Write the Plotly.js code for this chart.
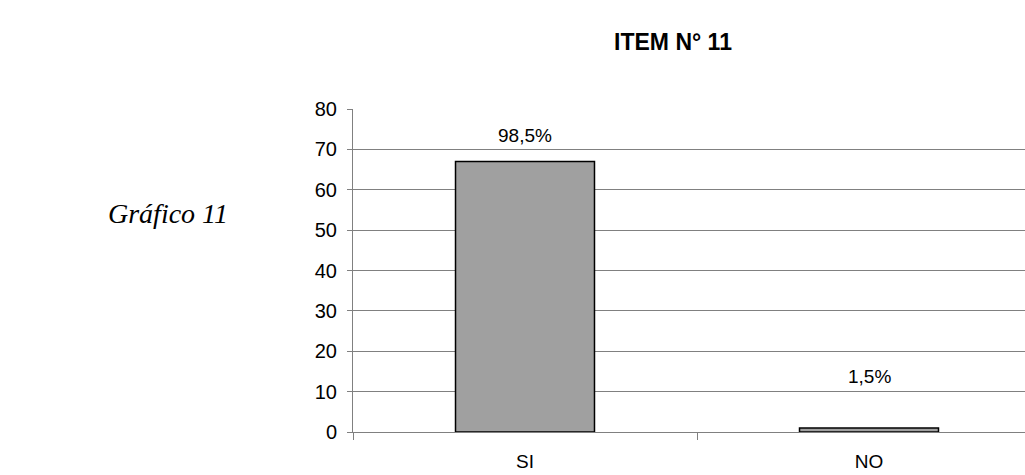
<!DOCTYPE html>
<html>
<head>
<meta charset="utf-8">
<script src="https://cdn.plot.ly/plotly-3.0.1.min.js"></script>
<style>
html,body{margin:0;padding:0;background:#fff;}
#chart{width:1025px;height:475px;}
</style>
</head>
<body>
<div id="chart"></div>
<script>
// Data
const categories = ["SI", "NO"];
const counts = [67, 1];
const percentLabels = ["98,5%", "1,5%"];
const yTickValues = [0, 10, 20, 30, 40, 50, 60, 70, 80];
const chartTitle = "ITEM N° 11";
const sideLabel = "Gráfico 11";

// Label offsets (pixels above bar top)
const labelOffsets = [26, 51];

const font = "Liberation Sans, Arial, sans-serif";

const trace = {
  type: "bar",
  x: categories,
  y: counts,
  marker: { color: "#a0a0a0", line: { color: "#000000", width: 1.5 } },
  width: 0.404,
  hoverinfo: "skip"
};

const annotations = categories.map((c, i) => ({
  x: c, y: counts[i], xref: "x", yref: "y",
  text: percentLabels[i], showarrow: false,
  xanchor: "center", yanchor: "middle", yshift: labelOffsets[i],
  font: { family: font, size: 19, color: "#000" }
}));

annotations.push({
  xref: "paper", yref: "paper",
  x: (168 - 353) / 672, y: (432 - 213) / 323,
  xanchor: "center", yanchor: "middle",
  text: sideLabel, showarrow: false,
  font: { family: "Liberation Serif, Times New Roman, serif", size: 28, color: "#000", style: "italic" }
});

const layout = {
  width: 1025, height: 475,
  margin: { l: 353, r: 0, t: 109, b: 43, pad: 0 },
  paper_bgcolor: "#fff", plot_bgcolor: "#fff",
  showlegend: false,
  title: {
    text: "<b>" + chartTitle + "</b>",
    x: 673 / 1025, xanchor: "center", xref: "container",
    y: 1 - 42 / 475, yanchor: "middle", yref: "container",
    font: { family: font, size: 23, color: "#000" }
  },
  xaxis: {
    type: "category",
    range: [-0.5, -0.5 + 672 / 344],
    showgrid: false, zeroline: false,
    showline: true, linecolor: "#808080", linewidth: 1,
    ticks: "outside", tickson: "boundaries", ticklen: 7, tickcolor: "#808080",
    ticklabelstandoff: 12,
    tickfont: { family: font, size: 19, color: "#000" },
    fixedrange: true
  },
  yaxis: {
    range: [0, 80],
    tickvals: yTickValues,
    showgrid: true, gridcolor: "#808080", gridwidth: 1,
    zeroline: false,
    showline: true, linecolor: "#808080", linewidth: 1,
    ticks: "outside", ticklen: 5, tickcolor: "#808080",
    ticklabelstandoff: 6,
    tickfont: { family: font, size: 20, color: "#000" },
    fixedrange: true
  },
  annotations: annotations
};

Plotly.newPlot("chart", [trace], layout, { staticPlot: true, displayModeBar: false });
</script>
</body>
</html>
